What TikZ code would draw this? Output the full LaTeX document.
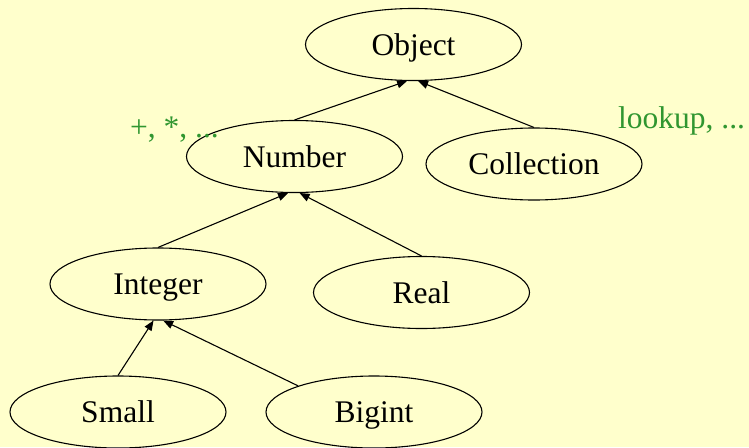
\documentclass[tikz,border=0pt]{standalone}
\usepackage{fontspec}
\setmainfont{Liberation Serif}
\usetikzlibrary{arrows.meta,shapes.geometric}
\definecolor{bg}{HTML}{FFFFCC}
\definecolor{lblgreen}{RGB}{48,150,48}
\begin{document}
\begin{tikzpicture}[x=1pt,y=-1pt,
  cls/.style={draw=black,line width=1.1pt,ellipse,minimum width=216pt,minimum height=72pt,inner sep=0pt,
    text height=21pt,text depth=0pt,font=\fontsize{31.5}{36}\selectfont},
  edge/.style={draw=black,line width=1.1pt,-{Triangle[length=10pt,width=8pt]}},
  note/.style={text=lblgreen,font=\fontsize{31.5}{36}\selectfont,inner sep=0pt}]
\fill[bg] (0,0) rectangle (749,447);
\useasboundingbox (0,0) rectangle (749,447);
\node[cls] (obj) at (413.5,44.5) {Object};
\node[cls] (num) at (294.5,156.5) {Number};
\node[cls] (coll) at (534,164) {Collection};
\node[cls] (int) at (158,284) {Integer};
\node[cls] (real) at (421.5,292.5) {Real};
\node[cls] (small) at (118,412) {Small};
\node[cls] (big) at (374,412) {Bigint};
\node[note,anchor=base west] (opsnote) at (130,137) {+, *, ...};
\node[note,anchor=base west] (looknote) at (618,128) {lookup, ...};
\draw[edge] (num.north) -- (obj.260);
\draw[edge] (coll.north) -- (obj.277);
\draw[edge] (int.north) -- (num.260);
\draw[edge] (real.north) -- (num.278.5);
\draw[edge] (small.north) -- (int.263.5);
\draw[edge] (big.161) -- (int.278);
\end{tikzpicture}
\end{document}
